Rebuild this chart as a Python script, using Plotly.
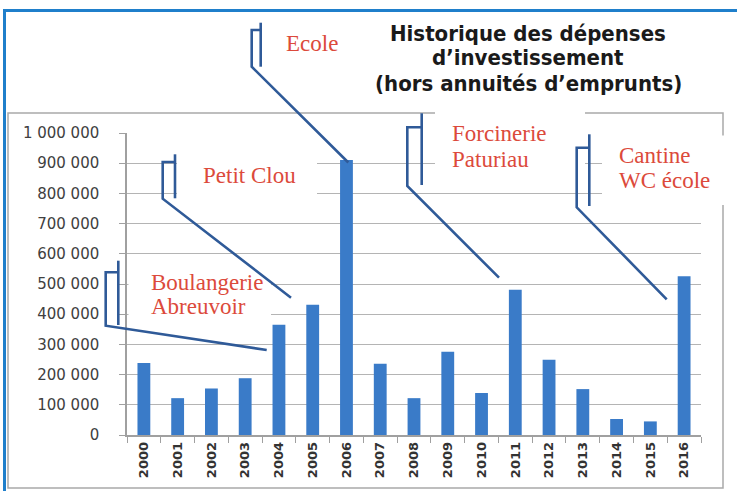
import plotly.graph_objects as go

# ---------------- data ----------------
years = ["2000", "2001", "2002", "2003", "2004", "2005", "2006", "2007", "2008",
         "2009", "2010", "2011", "2012", "2013", "2014", "2015", "2016"]
depenses = [238000, 122000, 154000, 188000, 365000, 431000, 911000, 236000, 122000,
            276000, 139000, 481000, 249000, 152000, 53000, 45000, 526000]
y_tickvals = [0, 100000, 200000, 300000, 400000, 500000, 600000, 700000, 800000, 900000, 1000000]
y_ticktext = ["0", "100 000", "200 000", "300 000", "400 000", "500 000", "600 000",
              "700 000", "800 000", "900 000", "1 000 000"]
title_lines = ["Historique des dépenses", "d’investissement", "(hors annuités d’emprunts)"]
callout_labels = [["Ecole"], ["Petit Clou"], ["Boulangerie", "Abreuvoir"],
                  ["Forcinerie", "Paturiau"], ["Cantine", "WC école"]]

# ---------------- layout geometry ----------------
W, H = 737, 491
L, R, T, B = 127, 36, 133, 56
PW, PH = W - L - R, H - T - B


def P(px, py):
    return (px - L) / PW, (H - B - py) / PH


def line(p1, p2, color, width):
    x0, y0 = P(*p1)
    x1, y1 = P(*p2)
    return dict(type="line", xref="paper", yref="paper", x0=x0, y0=y0, x1=x1, y1=y1,
                line=dict(color=color, width=width), layer="above")


def poly(points, color, width):
    pts = [P(*p) for p in points]
    path = "M " + " L ".join(f"{x:.5f},{y:.5f}" for x, y in pts)
    return dict(type="path", xref="paper", yref="paper", path=path,
                line=dict(color=color, width=width), layer="above")


def rect(p1, p2, fill):
    x0, y0 = P(*p1)
    x1, y1 = P(*p2)
    return dict(type="rect", xref="paper", yref="paper", x0=x0, y0=y0, x1=x1, y1=y1,
                fillcolor=fill, layer="above", line=dict(width=0))


BLUE_FRAME = "#1f7fcb"
GRAY_BORDER = "#a9a9a9"
CALLOUT = "#2f5a98"
RED = "#dc4a3b"

fig = go.Figure()
fig.add_trace(go.Bar(x=years, y=depenses, marker=dict(color="#3a7bc8", line=dict(width=0)),
                     hoverinfo="x+y"))

shapes = []
# outer blue frame
shapes.append(line((4.5, 491), (4.5, 10), BLUE_FRAME, 3))
shapes.append(line((3, 10.5), (737, 10.5), BLUE_FRAME, 3))
# chart border (gray)
shapes.append(dict(type="rect", xref="paper", yref="paper",
                   x0=P(8, 0)[0], x1=P(723, 0)[0], y0=P(0, 488)[1], y1=P(0, 113)[1],
                   line=dict(color=GRAY_BORDER, width=1.5), fillcolor="rgba(0,0,0,0)",
                   layer="above"))
# white label boxes
shapes.append(rect((177, 140), (317, 210), "white"))        # Petit Clou
shapes.append(rect((128.5, 262), (271, 330), "white"))      # Boulangerie
shapes.append(rect((435, 100), (585, 180), "white"))        # Forcinerie
shapes.append(rect((602, 135.5), (735, 205), "white"))      # Cantine

# callouts: accent bar + bracket + leader
callouts = [
    dict(bar=((260.7, 22.7), (260.7, 66.7)),
         path=[(260.7, 30), (251.7, 30), (251.7, 66.7), (348.3, 162.5)]),
    dict(bar=((175, 154.3), (175, 198.3)),
         path=[(175, 162), (162.7, 162), (162.7, 198.7), (291, 297.7)]),
    dict(bar=((118.3, 260.7), (118.3, 325)),
         path=[(118.3, 272.3), (105.7, 272.3), (105.7, 325.7), (266.7, 350)]),
    dict(bar=((421.7, 113.3), (421.7, 185)),
         path=[(421.7, 127.3), (407.3, 127.3), (407.3, 186), (499, 277.7)]),
    dict(bar=((589.3, 134.3), (589.3, 206)),
         path=[(589.3, 147.7), (576.7, 147.7), (576.7, 207.3), (666.7, 299.3)]),
]
for c in callouts:
    shapes.append(line(c["bar"][0], c["bar"][1], CALLOUT, 2.6))
    shapes.append(poly(c["path"], CALLOUT, 2.6))

annotations = []
# title
title_font = dict(family="Liberation Sans Narrow, DejaVu Sans Condensed, Arial Narrow, Roboto Condensed, Roboto",
                  size=22, color="#1a1a1a", weight="bold")
for txt, py in zip(title_lines, [33, 58, 84]):
    x, y = P(528, py)
    annotations.append(dict(text=txt, x=x, y=y, xref="paper", yref="paper",
                            xanchor="center", yanchor="middle", showarrow=False, font=title_font))

# callout labels
label_pos = [[(284, 43)], [(201, 175)], [(149, 282), (149, 306)],
             [(450, 133), (450, 159)], [(617, 155), (617, 180)]]
label_font = dict(family="Liberation Serif, DejaVu Serif, Times New Roman, serif", size=23, color=RED)
for texts, poss in zip(callout_labels, label_pos):
    for txt, (px, py) in zip(texts, poss):
        x, y = P(px, py)
        annotations.append(dict(text=txt, x=x, y=y, xref="paper", yref="paper",
                                xanchor="left", yanchor="middle", showarrow=False, font=label_font))

fig.update_layout(
    width=W, height=H, autosize=False,
    margin=dict(l=L, r=R, t=T, b=B, pad=0),
    paper_bgcolor="white", plot_bgcolor="white",
    showlegend=False, bargap=0.62,
    shapes=shapes, annotations=annotations,
    xaxis=dict(type="category", tickangle=-90, ticks="outside", tickson="boundaries",
               ticklen=6, tickcolor="#a0a0a0", showline=True, linecolor="#a0a0a0", linewidth=1.5,
               showgrid=False, tickfont=dict(family="DejaVu Sans", size=13, color="#333333", weight="bold"),
               fixedrange=True),
    yaxis=dict(range=[0, 1000000], tickvals=y_tickvals, ticktext=y_ticktext,
               ticks="outside", ticklen=6, tickcolor="#a0a0a0", showline=True, linecolor="#a0a0a0",
               linewidth=1.5, showgrid=True, gridcolor="#b4b4b4", gridwidth=1.2, zeroline=False,
               ticklabelstandoff=17,
               tickfont=dict(family="DejaVu Sans", size=15, color="#404040"), fixedrange=True),
)

fig.write_html("out.html", config={"displayModeBar": False},
               post_script="document.body.style.margin='0';")
